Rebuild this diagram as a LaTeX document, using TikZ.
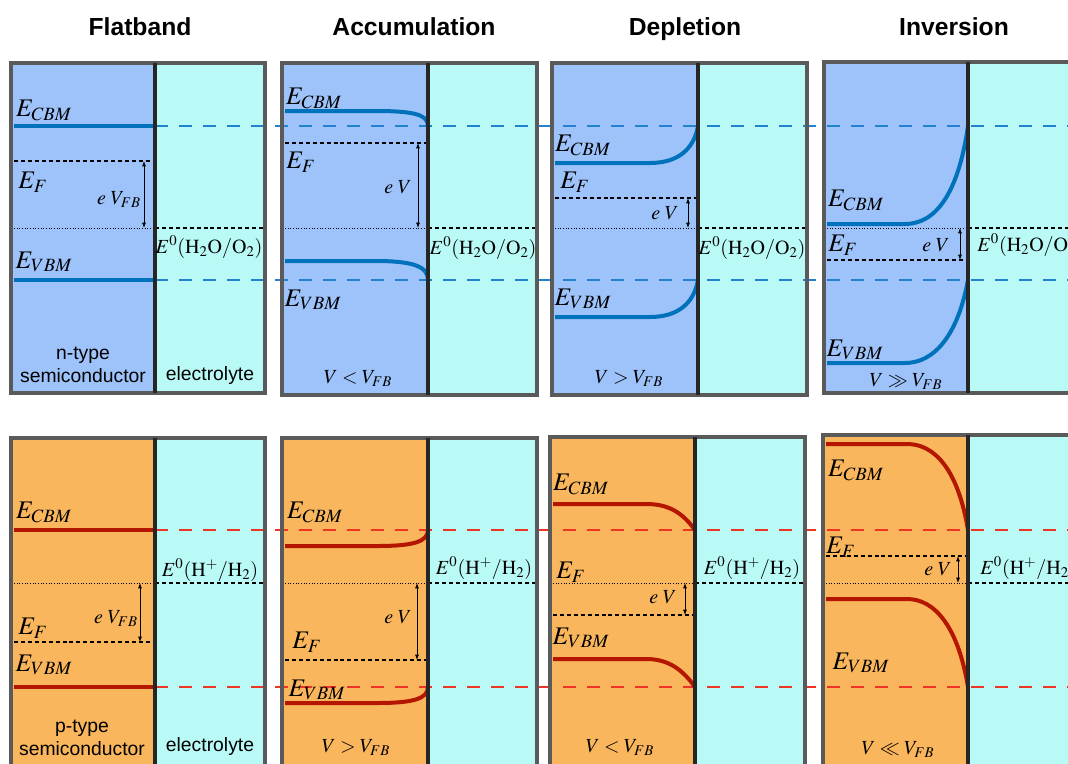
\documentclass[tikz,border=0pt]{standalone}
\usepackage{mathptmx}
\usepackage[no-math]{fontspec}
\setsansfont{Liberation Sans}
\usepackage{xcolor}
\usetikzlibrary{arrows.meta}

\definecolor{nsemi}{RGB}{157,195,250}
\definecolor{psemi}{RGB}{249,182,92}
\definecolor{elyte}{RGB}{185,250,247}
\definecolor{frame}{RGB}{90,90,90}
\definecolor{iface}{RGB}{38,38,38}
\definecolor{nband}{RGB}{0,114,187}
\definecolor{nref}{RGB}{35,130,205}
\definecolor{pband}{RGB}{180,22,0}
\definecolor{pref}{RGB}{238,52,36}

\tikzset{
  panel/.style={draw=frame,line width=2.5pt},
  ifaceline/.style={draw=iface,line width=2.3pt},
  band/.style={line width=3pt},
  vacref/.style={line width=1.6pt,dash pattern={on 9.5pt off 8.5pt}},
  fermi/.style={line width=1.4pt,dash pattern={on 3pt off 2.2pt}},
  redox/.style={line width=0.45pt,dash pattern={on 0.8pt off 1.2pt}},
  evarrow/.style={line width=0.6pt,{Latex[length=4pt,width=3pt]}-{Latex[length=4pt,width=3pt]}},
  ttl/.style={font=\sffamily\bfseries\fontsize{18.5}{22}\selectfont,inner sep=0pt,anchor=base},
  lvl/.style={font=\fontsize{19}{22}\selectfont,inner sep=0pt},
  sml/.style={font=\fontsize{15}{18}\selectfont,inner sep=0pt},
  txt/.style={font=\sffamily\fontsize{14.5}{17}\selectfont,inner sep=0pt},
}

\begin{document}
\begin{tikzpicture}[x=0.75pt,y=0.75pt,yscale=-1,xscale=1]
\useasboundingbox (0,0) rectangle (1068,764);
\clip (0,0) rectangle (1068,764);

%Shapes: semiconductor / electrolyte, top row (n-type)
\fill[nsemi] (11,63) rectangle (155,393);
\fill[elyte] (155,63) rectangle (265,393);
\fill[nsemi] (282,63) rectangle (428,395);
\fill[elyte] (428,63) rectangle (537,395);
\fill[nsemi] (552,63) rectangle (698,395);
\fill[elyte] (698,63) rectangle (807,395);
\fill[nsemi] (824,62) rectangle (968,393);
\fill[elyte] (968,62) rectangle (1090,393);
%Shapes: bottom row (p-type)
\fill[psemi] (11,438) rectangle (155,800);
\fill[elyte] (155,438) rectangle (265,800);
\fill[psemi] (282,438) rectangle (428,800);
\fill[elyte] (428,438) rectangle (537,800);
\fill[psemi] (550,437) rectangle (695,800);
\fill[elyte] (695,437) rectangle (805,800);
\fill[psemi] (823,435) rectangle (968,800);
\fill[elyte] (968,435) rectangle (1090,800);

%Straight Lines: Fermi levels
\draw[fermi] (14,161) -- (155,161);
\draw[fermi] (285,143) -- (428,143);
\draw[fermi] (555,198) -- (698,198);
\draw[fermi] (827,260) -- (968,260);
\draw[fermi] (14,642) -- (155,642);
\draw[fermi] (285,660) -- (428,660);
\draw[fermi] (553,615) -- (695,615);
\draw[fermi] (826,556) -- (968,556);

%Straight Lines: redox levels
\draw[redox] (14,228) -- (155,228);
\draw[fermi] (155,228) -- (265,228);
\draw[redox] (285,228) -- (428,228);
\draw[fermi] (428,228) -- (537,228);
\draw[redox] (555,228) -- (698,228);
\draw[fermi] (698,228) -- (807,228);
\draw[redox] (827,228) -- (968,228);
\draw[fermi] (968,228) -- (1068,228);
\draw[redox] (14,583) -- (155,583);
\draw[fermi] (155,583) -- (265,583);
\draw[redox] (285,583) -- (428,583);
\draw[fermi] (428,583) -- (537,583);
\draw[redox] (553,583) -- (695,583);
\draw[fermi] (695,583) -- (805,583);
\draw[redox] (826,583) -- (968,583);
\draw[fermi] (968,583) -- (1068,583);

%Straight Lines: flatband reference
\draw[vacref,nref] (155,126) -- (1068,126);
\draw[vacref,nref] (155,280) -- (1068,280);
\draw[vacref,pref] (155,530) -- (1068,530);
\draw[vacref,pref] (155,687) -- (1068,687);

%Curves: n-type bands
\draw[band,nband] (14,126) -- (155,126);
\draw[band,nband] (14,280) -- (155,280);
\draw[band,nband] (285,111) -- (375,111) .. controls (412,111) and (428,114) .. (428,126);
\draw[band,nband] (285,261) -- (375,261) .. controls (412,261) and (428,266) .. (428,280);
\draw[band,nband] (555,163) -- (650,163) .. controls (678,163) and (694,149) .. (698,126);
\draw[band,nband] (555,317) -- (650,317) .. controls (678,317) and (694,303) .. (698,280);
\draw[band,nband] (827,224) -- (905,224) .. controls (935,224) and (958,195) .. (968,126);
\draw[band,nband] (827,363) -- (905,363) .. controls (935,363) and (958,334) .. (968,280);
%Curves: p-type bands
\draw[band,pband] (14,530) -- (155,530);
\draw[band,pband] (14,687) -- (155,687);
\draw[band,pband] (285,546) -- (378,546) .. controls (412,546) and (428,542) .. (428,530);
\draw[band,pband] (285,703) -- (378,703) .. controls (412,703) and (428,699) .. (428,687);
\draw[band,pband] (553,504) -- (646,504) .. controls (668,504) and (682,512) .. (695,530);
\draw[band,pband] (553,659) -- (646,659) .. controls (668,659) and (682,669) .. (695,687);
\draw[band,pband] (826,444) -- (907,444) .. controls (935,444) and (958,470) .. (968,530);
\draw[band,pband] (826,599) -- (907,599) .. controls (935,599) and (958,627) .. (968,687);

%Shapes: frames and interfaces
\draw[panel] (11,63) rectangle (265,393);
\draw[panel] (282,63) rectangle (537,395);
\draw[panel] (552,63) rectangle (807,395);
\draw[panel] (824,62) rectangle (1090,393);
\draw[panel] (11,438) rectangle (265,800);
\draw[panel] (282,438) rectangle (537,800);
\draw[panel] (550,437) rectangle (805,800);
\draw[panel] (823,435) rectangle (1090,800);
\draw[ifaceline] (155,63) -- (155,393);
\draw[ifaceline] (428,63) -- (428,395);
\draw[ifaceline] (698,63) -- (698,395);
\draw[ifaceline] (968,62) -- (968,393);
\draw[ifaceline] (155,438) -- (155,800);
\draw[ifaceline] (428,438) -- (428,800);
\draw[ifaceline] (695,437) -- (695,800);
\draw[ifaceline] (968,435) -- (968,800);

%Arrows: potential drop
\draw[evarrow] (144,161) -- (144,228);
\draw[evarrow] (418,143) -- (418,228);
\draw[evarrow] (688,198) -- (688,228);
\draw[evarrow] (960,228) -- (960,260);
\draw[evarrow] (140,583) -- (140,642);
\draw[evarrow] (417,583) -- (417,660);
\draw[evarrow] (685,583) -- (685,615);
\draw[evarrow] (958,556) -- (958,583);

% Text Node: titles
\draw (140,35) node [ttl] (tflat) {Flatband};
\draw (414,35) node [ttl] (taccu) {Accumulation};
\draw (685,35) node [ttl] (tdepl) {Depletion};
\draw (954,35) node [ttl] (tinv) {Inversion};

% Text Node: flatband, n-type
\draw (44,110) node [lvl] (cbmA) {$E_{CBM}$};
\draw (33,182) node [lvl] (efA) {$E_{F}$};
\draw (119,200) node [sml] (evA) {$e\;V_{FB}$};
\draw (209,247) node [sml] (redA) {$E^{0}(\mathrm{H_2O/O_2})$};
\draw (44,262) node [lvl] (vbmA) {$E_{VBM}$};
\draw (83,355) node [txt] (ntype) {n-type};
\draw (83,376) node [txt] (nsemi) {semiconductor};
\draw (210,375) node [txt] (elyA) {electrolyte};
% Text Node: accumulation, n-type
\draw (314,98) node [lvl] (cbmB) {$E_{CBM}$};
\draw (301,162) node [lvl] (efB) {$E_{F}$};
\draw (398,187) node [sml] (evB) {$e\;V$};
\draw (483,248) node [sml] (redB) {$E^{0}(\mathrm{H_2O/O_2})$};
\draw (313,300) node [lvl] (vbmB) {$E_{VBM}$};
\draw (358,379) node [sml] (condB) {$V < V_{FB}$};
% Text Node: depletion, n-type
\draw (583,145) node [lvl] (cbmC) {$E_{CBM}$};
\draw (575,182) node [lvl] (efC) {$E_{F}$};
\draw (665,213) node [sml] (evC) {$e\;V$};
\draw (752,248) node [sml] (redC) {$E^{0}(\mathrm{H_2O/O_2})$};
\draw (583,299) node [lvl] (vbmC) {$E_{VBM}$};
\draw (629,379) node [sml] (condC) {$V > V_{FB}$};
% Text Node: inversion, n-type
\draw (856,200) node [lvl] (cbmD) {$E_{CBM}$};
\draw (843,245) node [lvl] (efD) {$E_{F}$};
\draw (936,245) node [sml] (evD) {$e\;V$};
\draw (977,245) node [sml,anchor=west] (redD) {$E^{0}(\mathrm{H_2O/O_2})$};
\draw (855,350) node [lvl] (vbmD) {$E_{VBM}$};
\draw (906,382) node [sml] (condD) {$V \gg V_{FB}$};

% Text Node: flatband, p-type
\draw (44,512) node [lvl] (cbmE) {$E_{CBM}$};
\draw (210,570) node [sml] (redE) {$E^{0}(\mathrm{H^{+}/H_2})$};
\draw (116,619) node [sml] (evE) {$e\;V_{FB}$};
\draw (33,628) node [lvl] (efE) {$E_{F}$};
\draw (44,665) node [lvl] (vbmE) {$E_{VBM}$};
\draw (82,728) node [txt] (ptype) {p-type};
\draw (82,749) node [txt] (psemi) {semiconductor};
\draw (210,746) node [txt] (elyE) {electrolyte};
% Text Node: accumulation, p-type
\draw (315,512) node [lvl] (cbmF) {$E_{CBM}$};
\draw (484,568) node [sml] (redF) {$E^{0}(\mathrm{H^{+}/H_2})$};
\draw (398,617) node [sml] (evF) {$e\;V$};
\draw (307,642) node [lvl] (efF) {$E_{F}$};
\draw (317,690) node [lvl] (vbmF) {$E_{VBM}$};
\draw (356,748) node [sml] (condF) {$V > V_{FB}$};
% Text Node: depletion, p-type
\draw (581,484) node [lvl] (cbmG) {$E_{CBM}$};
\draw (571,572) node [lvl] (efG) {$E_{F}$};
\draw (663,597) node [sml] (evG) {$e\;V$};
\draw (752,568) node [sml] (redG) {$E^{0}(\mathrm{H^{+}/H_2})$};
\draw (581,638) node [lvl] (vbmG) {$E_{VBM}$};
\draw (620,748) node [sml] (condG) {$V < V_{FB}$};
% Text Node: inversion, p-type
\draw (856,470) node [lvl] (cbmH) {$E_{CBM}$};
\draw (841,547) node [lvl] (efH) {$E_{F}$};
\draw (938,569) node [sml] (evH) {$e\;V$};
\draw (980,568) node [sml,anchor=west] (redH) {$E^{0}(\mathrm{H^{+}/H_2})$};
\draw (861,663) node [lvl] (vbmH) {$E_{VBM}$};
\draw (898,750) node [sml] (condH) {$V \ll V_{FB}$};

\end{tikzpicture}
\end{document}
